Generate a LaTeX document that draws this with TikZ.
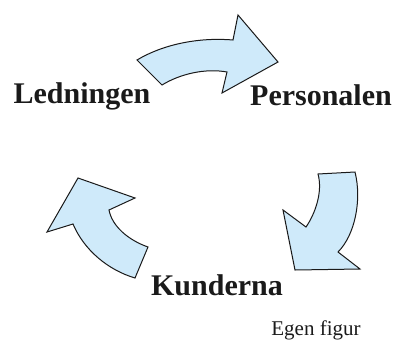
\documentclass[tikz,border=0pt]{standalone}
\usepackage{fontspec}
\setmainfont{Liberation Serif}
\usepackage{xcolor}
\usepackage{tikz}
\usetikzlibrary{positioning}
\definecolor{ice}{HTML}{CFEAFA}
\definecolor{ink}{HTML}{1A1A1A}
\tikzset{
  curlarrow/.style={draw=ink,fill=ice,line width=1pt,line join=miter},
  lbl/.style={font=\fontsize{30}{34}\selectfont\bfseries,text=ink,anchor=base,inner sep=0pt},
  note/.style={font=\fontsize{21}{24}\selectfont,text=ink,anchor=base,inner sep=0pt},
}

\begin{document}
\begin{tikzpicture}[x=1pt,y=-1pt]
    \useasboundingbox (0,0) rectangle (401,340);
    % top arrow, Ledningen -> Personalen
    \draw[curlarrow] (137,60) .. controls (162,45) and (197,37) .. (233,40) -- (238,15) -- (278,62)
      -- (222,93) -- (227,72) .. controls (205,68) and (180,74) .. (162,85) -- cycle;
    % right arrow, Personalen -> Kunderna
    \draw[curlarrow] (318,174) -- (355,172) .. controls (362,200) and (355,235) .. (338,252) -- (360,269)
      -- (295,270) -- (283,210) -- (306,227) .. controls (315,214) and (323,192) .. (318,174) -- cycle;
    % left arrow, Kunderna -> Ledningen
    \draw[curlarrow] (148,247) -- (135,278) .. controls (108,270) and (84,250) .. (73,224) -- (47,232)
      -- (78,178) -- (135,198) -- (109,210) .. controls (112,226) and (128,240) .. (148,247) -- cycle;
    % labels
    \node[lbl] (led) at (82,103) {Ledningen};
    \node[lbl] (pers) at (321,105) {Personalen};
    \node[lbl] (kund) at (217,295) {Kunderna};
    \node[note] (src) at (316,335) {Egen figur};
\end{tikzpicture}
\end{document}
